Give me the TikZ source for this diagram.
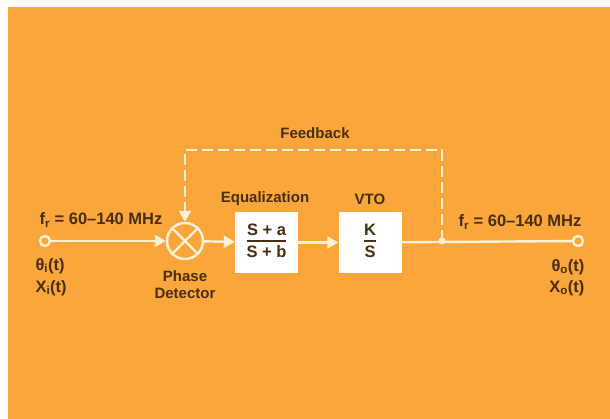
\documentclass[tikz,border=0pt]{standalone}
\usepackage{fontspec}
\setmainfont{Liberation Sans}
\usetikzlibrary{positioning,arrows.meta}
\definecolor{panel}{RGB}{250,166,58}
\definecolor{ink}{RGB}{74,46,16}
\definecolor{wire}{RGB}{255,240,214}
\newcommand{\blockfrac}[2]{{\setlength{\arrayrulewidth}{1.8pt}\begin{tabular}{@{}c@{}}#1\\[-1pt]\hline\rule{0pt}{15pt}#2\end{tabular}}}
\begin{document}
\begin{tikzpicture}[x=1pt,y=-1pt,
  lbl/.style={text=ink,font=\fontsize{15}{17}\selectfont\bfseries},
  biglbl/.style={text=ink,font=\fontsize{16.5}{19}\selectfont\bfseries},
  blockbox/.style={biglbl,fill=white,minimum width=63pt,minimum height=61pt,inner sep=0pt},
  sig/.style={draw=wire,line width=2.4pt},
  sigarrow/.style={sig,-{Triangle[length=11pt,width=12pt]}},
  fb/.style={sig,dash pattern=on 11pt off 5pt},
  terminal/.style={circle,draw=wire,line width=2.4pt,fill=panel,minimum size=10pt,inner sep=0pt},
  mixer/.style={circle,draw=wire,line width=2.4pt,minimum size=36pt,inner sep=0pt}]
% panel
\fill[white] (0,0) rectangle (610,419);
\fill[panel] (8,7) rectangle (610,419);
% blocks
\node[terminal] (in) at (45,241) {};
\node[mixer] (pd) at (185,241) {};
\draw[sig] (pd.45) -- (pd.225) (pd.135) -- (pd.315);
\node[blockbox] (eq) at (266.5,242.5) {\blockfrac{S + a}{S + b}};
\node[blockbox] (vto) at (370,242.5) {\blockfrac{K}{S}};
\node[terminal] (out) at (578,241) {};
\coordinate (tap) at (442,241);
\coordinate (fbtop) at (315,150);
% signal path
\draw[sigarrow] (in) -- (pd);
\draw[sigarrow] (pd) -- (eq);
\draw[sigarrow] (eq) -- (vto);
\draw[sig] (vto) -- (out);
\fill[wire] (tap) circle (3.5pt);
% feedback
\draw[fb,-{Triangle[length=11pt,width=12pt]}] (tap) -- (tap |- fbtop) -- (pd |- fbtop) -- (pd);
% labels
\node[biglbl] (fin) at (101,220) {f\textsubscript{r} = 60–140 MHz};
\node[biglbl] (fout) at (520,222) {f\textsubscript{r} = 60–140 MHz};
\node[biglbl,anchor=west] (thin) at (32,266) {θ\textsubscript{i}(t)};
\node[biglbl,anchor=west] (xin) at (32,288) {X\textsubscript{i}(t)};
\node[biglbl,anchor=east] (thout) at (588,267) {θ\textsubscript{o}(t)};
\node[biglbl,anchor=east] (xout) at (588,288) {X\textsubscript{o}(t)};
\node[lbl,align=center] (pdlbl) at (185,285) {Phase\\Detector};
\node[lbl] (eqlbl) at (265,199) {Equalization};
\node[lbl] (vtolbl) at (370,199) {VTO};
\node[lbl] (fblbl) at (315,133) {Feedback};
\end{tikzpicture}
\end{document}
